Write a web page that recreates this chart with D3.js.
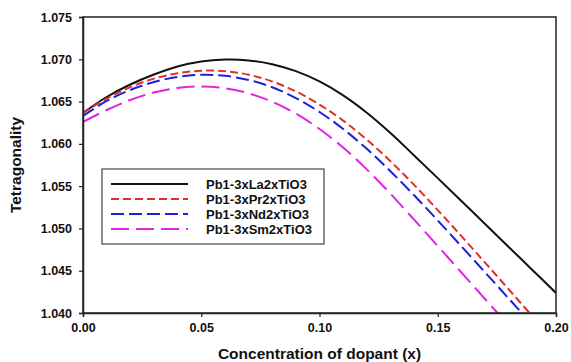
<!DOCTYPE html>
<html>
<head>
<meta charset="utf-8">
<script src="https://cdn.jsdelivr.net/npm/d3@7"></script>
<style>
  html, body { margin: 0; padding: 0; background: #fff; }
  svg { display: block; }
  text { font-family: "Liberation Sans", Arial, sans-serif; font-weight: bold; fill: #111; }
</style>
</head>
<body>
<svg id="chart" width="571" height="362"></svg>
<script>
// ---- data ----
const xValues = [0.00,0.01,0.02,0.03,0.04,0.05,0.06,0.07,0.08,0.09,0.10,0.11,0.12,0.13,0.14,0.15,0.16,0.17,0.18,0.19,0.20];
const laValues = [1.06365,1.06554,1.06702,1.06820,1.06915,1.06974,1.06997,1.06987,1.06942,1.06860,1.06738,1.06573,1.06368,1.06128,1.05863,1.05595,1.05325,1.05053,1.04781,1.04509,1.04237];
const prValues = [1.06365,1.06535,1.06671,1.06771,1.06835,1.06865,1.06860,1.06818,1.06738,1.06620,1.06465,1.06275,1.06050,1.05795,1.05515,1.05217,1.04909,1.04596,1.04280,1.03962,1.03643];
const ndValues = [1.06329,1.06507,1.06637,1.06731,1.06791,1.06816,1.06804,1.06756,1.06669,1.06542,1.06377,1.06176,1.05941,1.05677,1.05392,1.05094,1.04789,1.04481,1.04171,1.03861,1.03551];
const smValues = [1.06259,1.06400,1.06519,1.06607,1.06661,1.06678,1.06658,1.06598,1.06498,1.06358,1.06176,1.05956,1.05698,1.05410,1.05104,1.04792,1.04479,1.04166,1.03853,1.03540,1.03227];
const seriesNames = ["Pb1-3xLa2xTiO3","Pb1-3xPr2xTiO3","Pb1-3xNd2xTiO3","Pb1-3xSm2xTiO3"];
const xTicks = [0.00,0.05,0.10,0.15,0.20];
const yTicks = [1.040,1.045,1.050,1.055,1.060,1.065,1.070,1.075];
const xTitle = "Concentration of dopant (x)";
const yTitle = "Tetragonality";

// ---- styles ----
const colors = ["#111111","#e0302c","#1e1ee0","#e024e0"];
const dashes = [null,"8,4","13,5","18,7"];

const svg = d3.select("#chart");
const W = 571, H = 362;
const m = {left: 83, top: 17, right: 15, bottom: 49};
const iw = W - m.left - m.right, ih = H - m.top - m.bottom;

const x = d3.scaleLinear().domain([0, 0.20]).range([m.left, m.left + iw]);
const y = d3.scaleLinear().domain([1.040, 1.075]).range([m.top + ih, m.top]);

svg.append("defs").append("clipPath").attr("id","clip")
  .append("rect").attr("x", m.left).attr("y", m.top).attr("width", iw).attr("height", ih);

const allSeries = [laValues, prValues, ndValues, smValues];
const line = d3.line().x(d => x(d[0])).y(d => y(d[1])).curve(d3.curveCatmullRom.alpha(0.5));

const g = svg.append("g").attr("clip-path","url(#clip)");
allSeries.forEach((vals, i) => {
  g.append("path")
    .datum(xValues.map((xv, j) => [xv, vals[j]]))
    .attr("d", line)
    .attr("fill","none")
    .attr("stroke", colors[i])
    .attr("stroke-width", 2)
    .attr("stroke-dasharray", dashes[i]);
});

// frame
svg.append("rect").attr("x", m.left).attr("y", m.top).attr("width", iw).attr("height", ih)
  .attr("fill","none").attr("stroke","#222").attr("stroke-width",1.5);

// axes
const xAxis = d3.axisBottom(x).tickValues(xTicks).tickFormat(d3.format(".2f")).tickSize(4).tickPadding(6);
const yAxis = d3.axisLeft(y).tickValues(yTicks).tickFormat(d3.format(".3f")).tickSize(4).tickPadding(7);
const gx = svg.append("g").attr("transform", `translate(0,${m.top + ih})`).call(xAxis);
const gy = svg.append("g").attr("transform", `translate(${m.left},0)`).call(yAxis);
[gx, gy].forEach(a => {
  a.select(".domain").attr("stroke","#222").attr("stroke-width",1.5);
  a.selectAll(".tick line").attr("stroke","#222").attr("stroke-width",1.2);
  a.selectAll(".tick text").style("font-size","12.5px").style("font-weight","bold")
    .style("font-family","'Liberation Sans', Arial, sans-serif").attr("fill","#111");
});

// titles
svg.append("text").attr("x", m.left + iw/2).attr("y", 359).attr("text-anchor","middle")
  .style("font-size","15.5px").text(xTitle);
svg.append("text").attr("transform", `translate(21,${m.top + ih/2}) rotate(-90)`)
  .attr("text-anchor","middle").style("font-size","15.5px").text(yTitle);

// legend
const lg = svg.append("g");
lg.append("rect").attr("x",102).attr("y",169).attr("width",222).attr("height",75)
  .attr("fill","#fff").attr("stroke","#444").attr("stroke-width",1.2);
seriesNames.forEach((name, i) => {
  const yy = 184 + i*15;
  lg.append("line").attr("x1",111).attr("x2",188).attr("y1",yy).attr("y2",yy)
    .attr("stroke",colors[i]).attr("stroke-width",2).attr("stroke-dasharray",dashes[i]);
  lg.append("text").attr("x",206).attr("y",yy).attr("dy","0.35em")
    .style("font-size","13px").text(name);
});
</script>
</body>
</html>
